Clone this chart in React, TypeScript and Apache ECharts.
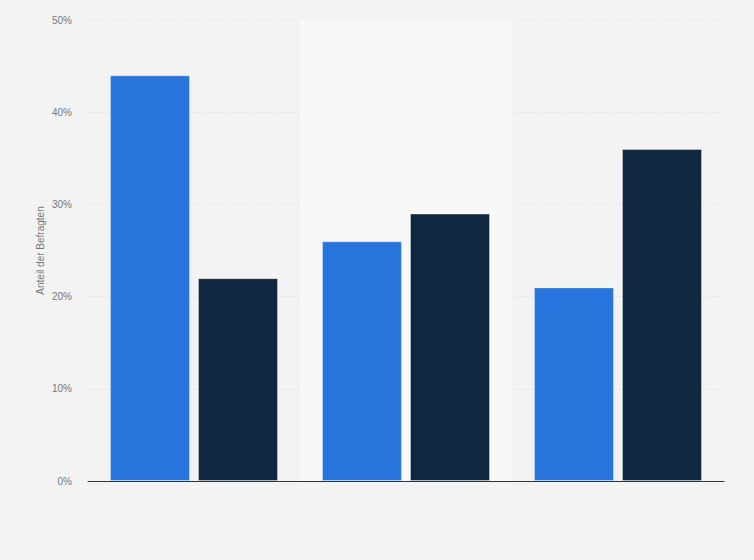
import React, { useEffect, useRef } from 'react';
import * as echarts from 'echarts';

const categories = ['Gruppe 1', 'Gruppe 2', 'Gruppe 3'];
const seriesNames = ['Serie 1', 'Serie 2'];
const valuesA = [44, 26, 21];
const valuesB = [22, 29, 36];
const colors = ['#2876dd', '#0f2741'];

const App: React.FC = () => {
  const chartRef = useRef<HTMLDivElement>(null);

  useEffect(() => {
    if (!chartRef.current) return;
    const chart = echarts.init(chartRef.current, null, { renderer: 'svg' });

    const option = {
      animation: false,
      backgroundColor: '#f3f3f3',
      textStyle: { fontFamily: 'Arial, "Liberation Sans", sans-serif' },
      grid: { left: 88, right: 30, top: 20, bottom: 79, containLabel: false },
      xAxis: {
        type: 'category',
        data: categories,
        axisLine: { show: true, lineStyle: { color: '#333', width: 1 } },
        axisTick: { show: false },
        axisLabel: { show: false },
        splitArea: { show: true, areaStyle: { color: ['rgba(0,0,0,0)', '#f8f8f8'] } },
      },
      yAxis: {
        type: 'value',
        min: 0,
        max: 50,
        interval: 10,
        name: 'Anteil der Befragten',
        nameLocation: 'middle',
        nameGap: 43,
        nameMoveOverlap: false,
        nameTextStyle: { color: '#777', fontSize: 10 },
        axisLine: { show: false },
        axisTick: { show: false },
        axisLabel: { color: '#777', fontSize: 10, margin: 16, formatter: '{value}%' },
        splitLine: { lineStyle: { color: '#d8d8d8', type: [1, 2], width: 1 } },
      },
      series: [valuesA, valuesB].map((vals, i) => ({
        name: seriesNames[i],
        type: 'bar',
        data: vals,
        barGap: '10%',
        barCategoryGap: '20.75%',
        itemStyle: {
          color: colors[i],
          borderColor: 'rgba(255,255,255,0.35)',
          borderWidth: 1,
        },
      })),
    };

    chart.setOption(option);
    return () => {
      chart.dispose();
    };
  }, []);

  return (
    <div
      ref={chartRef}
      style={{ position: 'fixed', left: 0, top: 0, width: 754, height: 560 }}
    />
  );
};

export default App;
